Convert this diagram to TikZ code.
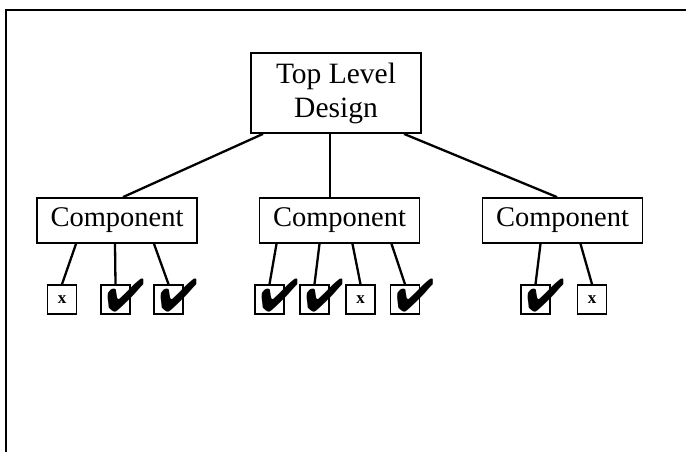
\documentclass[tikz,border=0pt]{standalone}
\usepackage{fontspec}
\setmainfont{Liberation Serif}
\usepackage{pifont}

\begin{document}
\begin{tikzpicture}[x=1pt, y=-1pt]
  \tikzstyle{design}=[draw, line width=1.8pt, minimum width=170pt, minimum height=80pt, inner sep=0pt, align=center, font=\fontsize{29.5}{34}\selectfont]
  \tikzstyle{comp}=[draw, line width=1.8pt, minimum width=160pt, minimum height=45pt, inner sep=0pt, font=\fontsize{28.5}{30}\selectfont]
  \tikzstyle{leaf}=[draw, line width=1.6pt, minimum size=29pt, inner sep=0pt]
  \tikzstyle{fail}=[font=\fontsize{17}{17}\selectfont\bfseries]
  \tikzstyle{tick}=[inner sep=0pt, font=\fontsize{46}{46}\selectfont, xshift=10pt, yshift=4pt]
  \tikzstyle{link}=[line width=2.3pt]

  \useasboundingbox (0,0) rectangle (686,452);

  % page frame, only top and left edges show
  \draw[line width=2.4pt] (6,452) -- (6,10) -- (686,10);

  \node[design] (top) at (336, 93)   {Top Level\\Design};

  \node[comp]   (c1)  at (117,   220.5) {Component};
  \node[comp]   (c2)  at (339.5, 220.5) {Component};
  \node[comp]   (c3)  at (562.5, 220.5) {Component};

  \node[leaf, fail] (l1) at (62,    299.5) {x};
  \node[leaf]       (l2) at (115.5, 299.5) {};
  \node[leaf]       (l3) at (168.5, 299.5) {};
  \node[leaf]       (m1) at (269.5, 299.5) {};
  \node[leaf]       (m2) at (314.5, 299.5) {};
  \node[leaf, fail] (m3) at (360.5, 299.5) {x};
  \node[leaf]       (m4) at (405,   299.5) {};
  \node[leaf]       (r1) at (535.5, 299.5) {};
  \node[leaf, fail] (r2) at (592,   299.5) {x};

  % ticks over the passed boxes
  \node[tick] at (l2) {\ding{52}};
  \node[tick] at (l3) {\ding{52}};
  \node[tick] at (m1) {\ding{52}};
  \node[tick] at (m2) {\ding{52}};
  \node[tick] at (m4) {\ding{52}};
  \node[tick] at (r1) {\ding{52}};

  \draw[link] ([xshift=-73pt]top.south) -- ([xshift=6pt]c1.north);
  \draw[link] ([xshift=-6pt]top.south)  -- ([xshift=-9.5pt]c2.north);
  \draw[link] ([xshift=68pt]top.south)  -- ([xshift=-5.5pt]c3.north);

  \draw[link] ([xshift=-41pt]c1.south) -- (l1.north);
  \draw[link] ([xshift=-2pt]c1.south)  -- (l2.north);
  \draw[link] ([xshift=37pt]c1.south)  -- (l3.north);
  \draw[link] ([xshift=-63pt]c2.south) -- (m1.north);
  \draw[link] ([xshift=-20pt]c2.south) -- (m2.north);
  \draw[link] ([xshift=13pt]c2.south)  -- (m3.north);
  \draw[link] ([xshift=52pt]c2.south)  -- (m4.north);
  \draw[link] ([xshift=-22pt]c3.south) -- (r1.north);
  \draw[link] ([xshift=18pt]c3.south)  -- (r2.north);
\end{tikzpicture}
\end{document}
